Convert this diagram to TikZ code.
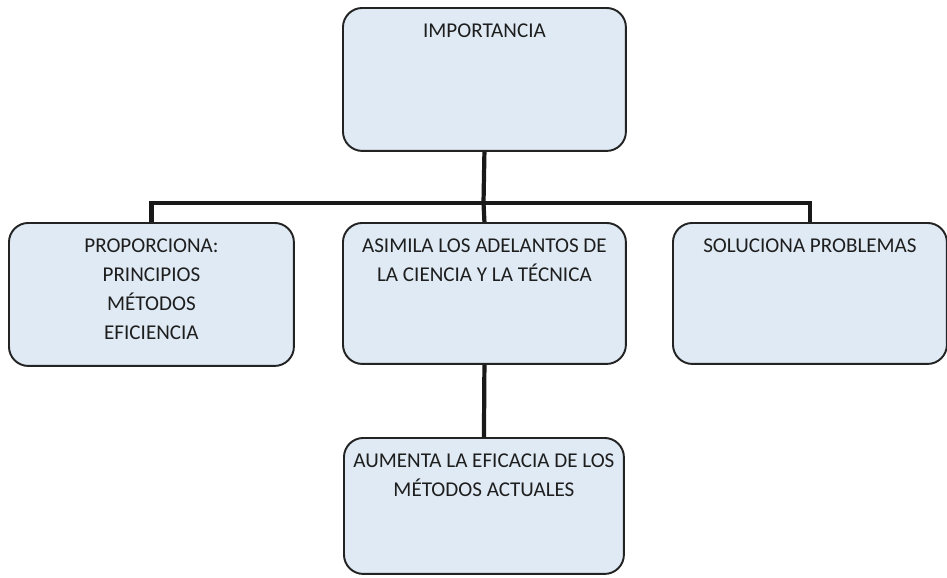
\documentclass[tikz,border=0pt]{standalone}
\usepackage{fontspec}
\setmainfont{Carlito}
\usetikzlibrary{positioning, calc}
\definecolor{azulcaja}{RGB}{223,234,244}
\definecolor{bordecaja}{RGB}{35,35,35}
\definecolor{tinta}{RGB}{30,30,30}
% texto arriba dentro de la caja: ancho, alto, texto
\newcommand{\textocaja}[3]{\parbox[t][#2][t]{#1}{\centering\rule{0pt}{0.6cm}#3}}

\begin{document}
\begin{tikzpicture}[x=0.02cm, y=-0.02cm,
    caja/.style={draw=bordecaja, line width=1.1pt, fill=azulcaja, rounded corners=11pt,
      inner sep=0pt, anchor=north west, text=tinta, font=\fontsize{12}{16.5}\selectfont},
    conector/.style={line width=2.4pt, black!90, line join=miter}]
    \useasboundingbox (0,0) rectangle (947,578);
    \node[caja] (imp) at (342,7) {\textocaja{5.66cm}{2.86cm}{IMPORTANCIA}};
    \node[caja] (prop) at (8,222) {\textocaja{5.7cm}{2.86cm}{PROPORCIONA:\\PRINCIPIOS\\MÉTODOS\\EFICIENCIA}};
    \node[caja] (asim) at (342,222) {\textocaja{5.66cm}{2.82cm}{ASIMILA LOS ADELANTOS DE\\LA CIENCIA Y LA TÉCNICA}};
    \node[caja] (sol) at (672,222) {\textocaja{5.48cm}{2.82cm}{SOLUCIONA PROBLEMAS}};
    \node[caja] (aum) at (343,437) {\textocaja{5.6cm}{2.72cm}{AUMENTA LA EFICACIA DE LOS\\MÉTODOS ACTUALES}};
    \coordinate (barra) at (483.5,203);
    \draw[conector] (imp.south) -- (barra);
    \draw[conector] (prop.north) |- (barra) -| (sol.north);
    \draw[conector] (barra) -- (asim.north);
    \draw[conector] (asim.south) -- (aum.north);
\end{tikzpicture}
\end{document}
